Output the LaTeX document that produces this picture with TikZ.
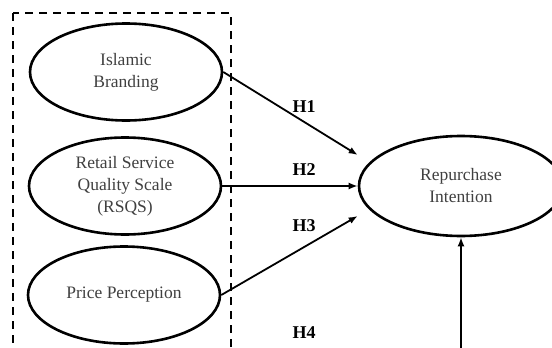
\documentclass[tikz,border=0pt]{standalone}
\usepackage{fontspec}
\setmainfont{Liberation Serif}
\usetikzlibrary{calc,arrows.meta,shapes.geometric}

\begin{document}
\begin{tikzpicture}[x=1pt,y=1pt,line width=1.8pt,
                construct/.style={ellipse,draw,line width=2.6pt,minimum width=192pt,minimum height=97pt,
                  inner sep=0pt,align=center,text=black!75,font=\fontsize{17.5}{22}\selectfont},
                hlab/.style={font=\fontsize{18}{20}\selectfont\bfseries},
                path arrow/.style={-{Latex[length=9pt,width=7pt]}}]
	\useasboundingbox (0,0) rectangle (552,-348);
	\clip (0,0) rectangle (552,-348);

	\node[construct] (ib) at (126,-72) {Islamic\\Branding};
	\node[construct] (rsqs) at (125,-186) {Retail Service\\Quality Scale\\(RSQS)};
	\node[construct] (pp) at (124,-295) {Price Perception};
	\node[construct,minimum width=204pt,minimum height=100pt] (ri) at (461,-186) {Repurchase\\Intention};

	\coordinate (ri1) at ($(ri.west)+(0,31)$);
	\coordinate (ri3) at ($(ri.west)+(0,-30)$);
	\coordinate (h4start) at (461,-370);

	\path[path arrow]
	(ib.east) edge node {} (ri1)
	(rsqs.east) edge node {} (ri.west)
	(pp.east) edge node {} (ri3)
	(h4start) edge node {} (ri.south);

	\node[hlab] (h1) at (304,-107) {H1};
	\node[hlab] (h2) at (304,-170) {H2};
	\node[hlab] (h3) at (304,-226) {H3};
	\node[hlab] (h4) at (304,-333) {H4};

	\draw[dash pattern=on 8pt off 6pt] ($(ib.north -| ib.west)+(-16,9)$) rectangle ($(pp.south -| pp.east)+(10,-20)$);

\end{tikzpicture}
\end{document}
